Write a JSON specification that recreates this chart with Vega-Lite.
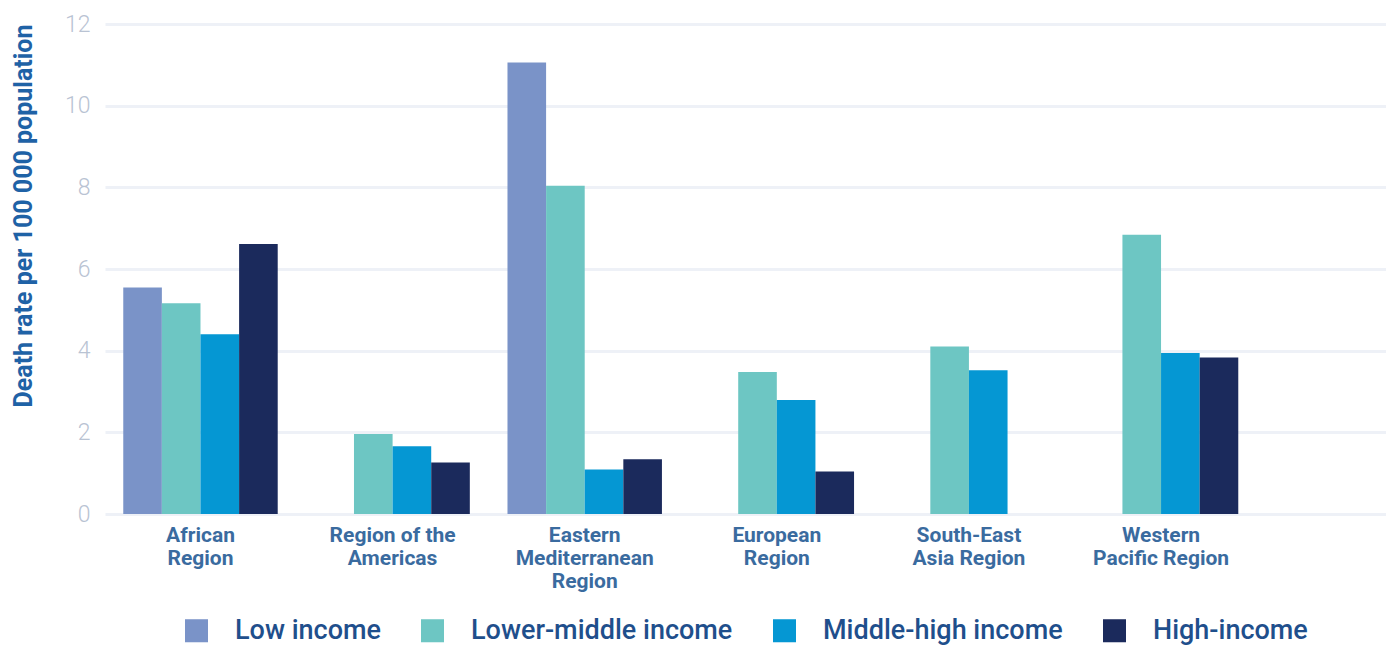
{
  "$schema": "https://vega.github.io/schema/vega-lite/v6.json",
  "width": 1281,
  "height": 490,
  "autosize": {"type": "none"},
  "padding": {"left": 105, "top": 24, "right": 0, "bottom": 132},
  "background": "#ffffff",
  "config": {
    "view": {"stroke": null},
    "font": "Roboto",
    "legend": {"layout": {"bottom": {"anchor": "middle"}}}
  },
  "data": {
    "values": [
      {"region": "African Region", "income": "Low income", "rate": 5.55},
      {"region": "African Region", "income": "Lower-middle income", "rate": 5.16},
      {"region": "African Region", "income": "Middle-high income", "rate": 4.4},
      {"region": "African Region", "income": "High-income", "rate": 6.61},
      {"region": "Region of the Americas", "income": "Lower-middle income", "rate": 1.96},
      {"region": "Region of the Americas", "income": "Middle-high income", "rate": 1.66},
      {"region": "Region of the Americas", "income": "High-income", "rate": 1.26},
      {"region": "Eastern Mediterranean Region", "income": "Low income", "rate": 11.06},
      {"region": "Eastern Mediterranean Region", "income": "Lower-middle income", "rate": 8.04},
      {"region": "Eastern Mediterranean Region", "income": "Middle-high income", "rate": 1.09},
      {"region": "Eastern Mediterranean Region", "income": "High-income", "rate": 1.34},
      {"region": "European Region", "income": "Lower-middle income", "rate": 3.48},
      {"region": "European Region", "income": "Middle-high income", "rate": 2.79},
      {"region": "European Region", "income": "High-income", "rate": 1.04},
      {"region": "South-East Asia Region", "income": "Lower-middle income", "rate": 4.1},
      {"region": "South-East Asia Region", "income": "Middle-high income", "rate": 3.52},
      {"region": "Western Pacific Region", "income": "Lower-middle income", "rate": 6.84},
      {"region": "Western Pacific Region", "income": "Middle-high income", "rate": 3.94},
      {"region": "Western Pacific Region", "income": "High-income", "rate": 3.83}
    ]
  },
  "mark": {"type": "bar"},
  "encoding": {
    "x": {
      "field": "region",
      "type": "nominal",
      "sort": ["African Region", "Region of the Americas", "Eastern Mediterranean Region", "European Region", "South-East Asia Region", "Western Pacific Region"],
      "scale": {"paddingInner": 0.196, "paddingOuter": 0.432, "align": 0.11},
      "axis": {
        "title": null,
        "labelAngle": 0,
        "domain": false,
        "ticks": false,
        "labelPadding": 10,
        "labelFontSize": 21,
        "labelFontWeight": "bold",
        "labelColor": "#3a6b9f",
        "labelLineHeight": 23,
        "labelExpr": "datum.label == 'African Region' ? ['African','Region'] : datum.label == 'Region of the Americas' ? ['Region of the','Americas'] : datum.label == 'Eastern Mediterranean Region' ? ['Eastern','Mediterranean','Region'] : datum.label == 'European Region' ? ['European','Region'] : datum.label == 'South-East Asia Region' ? ['South-East','Asia Region'] : ['Western','Pacific Region']"
      }
    },
    "xOffset": {
      "field": "income",
      "type": "nominal",
      "sort": ["Low income", "Lower-middle income", "Middle-high income", "High-income"],
      "scale": {"domain": ["Low income", "Lower-middle income", "Middle-high income", "High-income"], "paddingInner": 0, "paddingOuter": 0}
    },
    "y": {
      "field": "rate",
      "type": "quantitative",
      "scale": {"domain": [0, 12], "nice": false},
      "axis": {
        "title": "Death rate per 100 000 population",
        "titleFontSize": 25,
        "titleFontWeight": "bold",
        "titleColor": "#1f62a6",
        "titleAnchor": "end",
        "titlePadding": 28,
        "values": [0, 2, 4, 6, 8, 10, 12],
        "domain": false,
        "ticks": false,
        "labelPadding": 15,
        "labelFontSize": 23,
        "labelFontWeight": 300,
        "labelColor": "#b9c3d3",
        "gridColor": "#eef1f7",
        "gridWidth": 3
      }
    },
    "color": {
      "field": "income",
      "type": "nominal",
      "scale": {
        "domain": ["Low income", "Lower-middle income", "Middle-high income", "High-income"],
        "range": ["#7a93c8", "#6dc6c3", "#0597d3", "#1b2a5c"]
      },
      "legend": {
        "title": null,
        "orient": "bottom",
        "direction": "horizontal",
        "columns": 4,
        "symbolType": "square",
        "symbolSize": 530,
        "symbolStrokeWidth": 0,
        "symbolOpacity": 1,
        "labelFontSize": 27,
        "labelFontWeight": 500,
        "labelColor": "#1f4f8c",
        "labelOffset": 25,
        "columnPadding": 38,
        "labelLimit": 400,
        "offset": 26
      }
    }
  }
}
